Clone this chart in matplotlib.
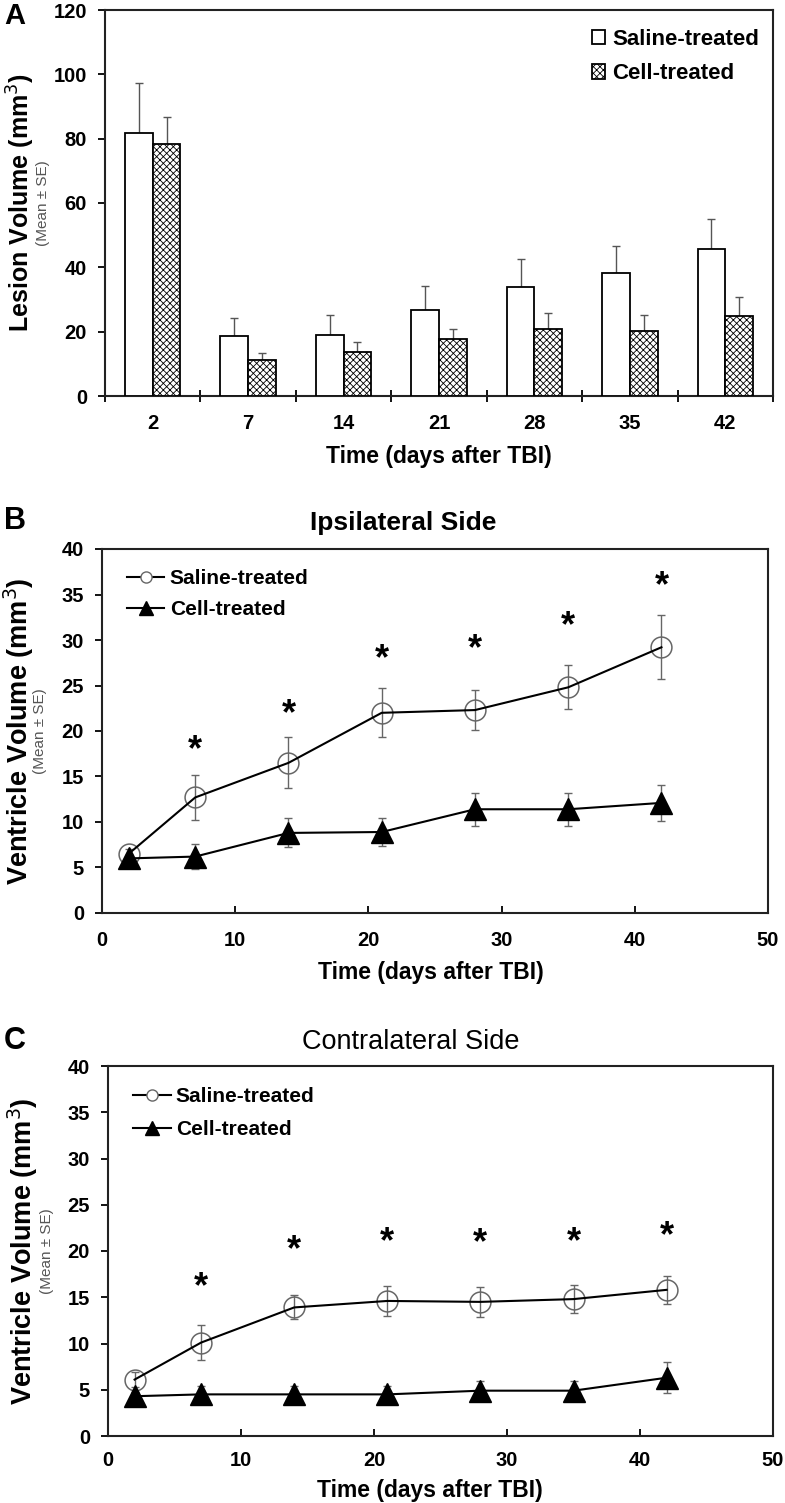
import numpy as np
import matplotlib
matplotlib.use('Agg')
import matplotlib.pyplot as plt
from matplotlib.transforms import offset_copy

plt.rcParams['font.family'] = ['Liberation Sans', 'DejaVu Sans']
plt.rcParams['hatch.linewidth'] = 0.6
plt.rcParams['hatch.color'] = '#333333'

# Panel A: lesion volume
days = [2, 7, 14, 21, 28, 35, 42]
day_labels = ['2', '7', '14', '21', '28', '35', '42']
lesion_saline = [81.7, 18.6, 19.0, 26.7, 33.9, 38.2, 45.7]
lesion_saline_se = [15.5, 5.6, 6.2, 7.5, 8.6, 8.4, 9.3]
lesion_cell = [78.3, 11.2, 13.7, 17.7, 20.8, 20.2, 24.9]
lesion_cell_se = [8.4, 2.2, 3.1, 3.1, 5.0, 5.0, 5.9]

# Panel B: ipsilateral ventricle volume
ipsi_saline = [6.5, 12.7, 16.5, 22.0, 22.3, 24.8, 29.2]
ipsi_saline_se = [0.5, 2.5, 2.8, 2.7, 2.2, 2.4, 3.5]
ipsi_cell = [6.0, 6.2, 8.8, 8.9, 11.4, 11.4, 12.1]
ipsi_cell_se = [0.4, 1.4, 1.6, 1.5, 1.8, 1.8, 2.0]
ipsi_star_days = [7, 14, 21, 28, 35, 42]
ipsi_star_y = [18.7, 22.6, 28.7, 29.8, 32.3, 36.7]

# Panel C: contralateral ventricle volume
contra_saline = [6.1, 10.1, 13.9, 14.6, 14.5, 14.8, 15.8]
contra_saline_se = [0.8, 1.9, 1.3, 1.6, 1.6, 1.5, 1.5]
contra_cell = [4.3, 4.5, 4.5, 4.5, 4.9, 4.9, 6.3]
contra_cell_se = [0.5, 0.9, 0.9, 0.9, 1.0, 1.0, 1.7]
contra_star_days = [7, 14, 21, 28, 35, 42]
contra_star_y = [16.9, 20.9, 21.7, 21.6, 21.7, 22.4]

W, H = 785, 1503
fig = plt.figure(figsize=(W / 100, H / 100), dpi=100)


def box(l, t, r, b):
    return [l / W, 1 - b / H, (r - l) / W, (b - t) / H]


def ftext(px, py, s, **kw):
    # text placed by pixel position (from top-left)
    return fig.text(px / W, 1 - py / H, s, ha='center', va='center', **kw)


def style_axes(ax, xdir='out'):
    for s in ax.spines.values():
        s.set_linewidth(1.5)
        s.set_color('#222222')
    ax.tick_params(axis='y', direction='out', width=1.3, length=5,
                   labelsize=14.5, pad=8)
    ax.tick_params(axis='x', direction=xdir, width=1.3, length=5,
                   labelsize=14.5, pad=11)
    for lab in ax.get_xticklabels() + ax.get_yticklabels():
        lab.set_fontweight('bold')


def ylab(ax, text, x_main, x_sub, size):
    ax.text(x_main, 0.5, text, transform=ax.transAxes, rotation=90,
            ha='center', va='center', fontsize=size, fontweight='bold')
    ax.text(x_sub, 0.5, '(Mean ± SE)', transform=ax.transAxes, rotation=90,
            ha='center', va='center', fontsize=11, color='#555555')


# ---------- A ----------
axA = fig.add_axes(box(105, 10, 773, 396))
x = np.arange(len(days))
bw = 0.29
axA.bar(x - bw / 2, lesion_saline, bw, color='white', edgecolor='black',
        linewidth=1.3, zorder=3, label='Saline-treated')
axA.bar(x + bw / 2, lesion_cell, bw, color='white', edgecolor='black',
        linewidth=1.3, hatch='xxxxx', zorder=3, label='Cell-treated')
zeros = np.zeros(len(days))
axA.errorbar(x - bw / 2, lesion_saline, yerr=[zeros, lesion_saline_se], fmt='none',
             ecolor='#555555', elinewidth=1.0, capsize=3, capthick=1.0, zorder=2)
axA.errorbar(x + bw / 2, lesion_cell, yerr=[zeros, lesion_cell_se], fmt='none',
             ecolor='#555555', elinewidth=1.0, capsize=3, capthick=1.0, zorder=2)
axA.set_xlim(-0.5, len(days) - 0.5)
axA.set_ylim(0, 120)
axA.set_yticks(range(0, 121, 20))
axA.set_xticks(np.arange(len(days) + 1) - 0.5)
axA.set_xticklabels([])
axA.set_xticks(x, minor=True)
axA.set_xticklabels(day_labels, minor=True)
style_axes(axA, xdir='inout')
axA.tick_params(axis='x', which='major', length=9)
axA.tick_params(axis='x', which='minor', length=0, pad=13)
for lab in axA.get_xticklabels(minor=True):
    lab.set_fontweight('bold')
    lab.set_fontsize(14.5)
ylab(axA, 'Lesion Volume (mm$^3$)', -0.126, -0.093, 18)
axA.legend(loc='upper left', frameon=False,
           prop={'weight': 'bold', 'size': 16}, handlelength=0.6,
           handleheight=0.6, handletextpad=0.32, labelspacing=0.62,
           borderpad=0, borderaxespad=0, bbox_to_anchor=(0.729, 0.952))
ftext(439, 457, 'Time (days after TBI)', fontsize=16.5, fontweight='bold')
ftext(15, 16, 'A', fontsize=21, fontweight='bold')


def line_panel(ax, sal, sal_se, cell, cell_se, star_x, star_y, leg_anchor, lspace):
    ax.errorbar(days, sal, yerr=sal_se, fmt='none', ecolor='#666666',
                elinewidth=1.0, capsize=3, capthick=1.0, zorder=2)
    ax.errorbar(days, cell, yerr=cell_se, fmt='none', ecolor='#666666',
                elinewidth=1.0, capsize=3, capthick=1.0, zorder=2)
    ax.plot(days, sal, color='black', lw=1.5, zorder=4)
    ax.plot(days, sal, ls='none', marker='o', ms=15, mfc='none', mec='#666666',
            mew=1.1, zorder=3)
    ax.plot(days, cell, color='black', lw=1.5, marker='^', ms=16, mfc='black',
            mec='black', zorder=4)
    # legend proxies
    ax.plot([], [], color='black', lw=1.5, marker='o', ms=8, mfc='white',
            mec='#666666', label='Saline-treated')
    ax.plot([], [], color='black', lw=1.5, marker='^', ms=10, mfc='black',
            label='Cell-treated')
    star_tr = offset_copy(ax.transData, fig=fig, x=0, y=-17, units='dots')
    for sx, sy in zip(star_x, star_y):
        ax.text(sx, sy, '*', ha='center', va='baseline', fontsize=26,
                fontweight='bold', transform=star_tr)
    ax.set_xlim(0, 50)
    ax.set_ylim(0, 40)
    ax.set_xticks(range(0, 51, 10))
    ax.set_yticks(range(0, 41, 5))
    style_axes(ax, xdir='in')
    ax.legend(loc='upper left', frameon=False,
              prop={'weight': 'bold', 'size': 15}, handlelength=1.8,
              handletextpad=0.25, labelspacing=lspace, borderpad=0,
              borderaxespad=0, bbox_to_anchor=leg_anchor)


# ---------- B ----------
axB = fig.add_axes(box(102, 549, 768, 913))
line_panel(axB, ipsi_saline, ipsi_saline_se, ipsi_cell, ipsi_cell_se,
           ipsi_star_days, ipsi_star_y, (0.0375, 0.944), 0.55)
axB.tick_params(axis='x', pad=13)
ftext(403, 523, 'Ipsilateral Side', fontsize=19, fontweight='bold')
ftext(431, 973, 'Time (days after TBI)', fontsize=16.5, fontweight='bold')
ylab(axB, 'Ventricle Volume (mm$^3$)', -0.125, -0.093, 19.5)
ftext(15, 521, 'B', fontsize=22, fontweight='bold')

# ---------- C ----------
axC = fig.add_axes(box(108, 1066, 773, 1436))
line_panel(axC, contra_saline, contra_saline_se, contra_cell, contra_cell_se,
           contra_star_days, contra_star_y, (0.0376, 0.942), 0.65)
axC.tick_params(axis='x', pad=11)
ftext(411, 1042, 'Contralateral Side', fontsize=19.5)
ftext(430, 1490, 'Time (days after TBI)', fontsize=16.5, fontweight='bold')
ylab(axC, 'Ventricle Volume (mm$^3$)', -0.128, -0.092, 19.5)
ftext(15, 1041, 'C', fontsize=22, fontweight='bold')

fig.savefig('out.png', dpi=100)
